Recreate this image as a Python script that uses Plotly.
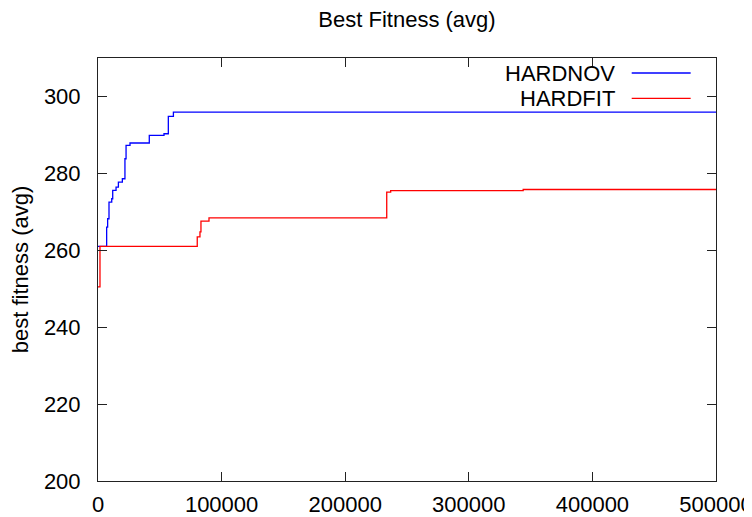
import plotly.graph_objects as go

# ---- data ----
hardnov_x = [0, 7000, 7800, 8900, 11100, 11900, 14600, 16500, 19700, 21800, 22700, 25900,
             41500, 53400, 56900, 61000, 500000]
hardnov_y = [261.0, 266.0, 268.2, 272.5, 273.4, 275.6, 276.4, 277.7, 278.6, 283.8, 287.3, 287.9,
             289.9, 290.3, 294.8, 295.9, 295.9]

hardfit_x = [0, 1600, 80300, 82500, 83300, 89800, 233600, 236800, 344000, 500000]
hardfit_y = [250.5, 261.0, 263.5, 264.8, 267.6, 268.4, 275.1, 275.5, 275.8, 275.8]

series_names = ["HARDNOV", "HARDFIT"]
series_colors = ["#0000ff", "#ff0000"]

x_ticks = [0, 100000, 200000, 300000, 400000, 500000]
y_ticks = [200, 220, 240, 260, 280, 300]

FONT = "Liberation Sans, Arial, sans-serif"
FS = 22

fig = go.Figure()
fig.add_trace(go.Scatter(x=hardnov_x, y=hardnov_y, mode="lines", line_shape="hv",
                         name=series_names[0], line=dict(color=series_colors[0], width=1.3)))
fig.add_trace(go.Scatter(x=hardfit_x, y=hardfit_y, mode="lines", line_shape="hv",
                         name=series_names[1], line=dict(color=series_colors[1], width=1.3)))

# gnuplot-style legend: text right-aligned, then line sample
legend_y = [0.9645, 0.9047]
for name, color, ly in zip(series_names, series_colors, legend_y):
    fig.add_annotation(xref="paper", yref="paper", x=0.839, y=ly, text=name,
                       showarrow=False, xanchor="right", yanchor="middle",
                       font=dict(family=FONT, size=FS, color="black"))
    fig.add_shape(type="line", xref="paper", yref="paper", x0=0.8636, x1=0.959,
                  y0=ly, y1=ly, line=dict(color=color, width=1.3))

axis_common = dict(showline=True, linecolor="#222222", linewidth=1, mirror="ticks",
                   ticks="inside", ticklen=9, tickwidth=1, tickcolor="#222222",
                   showgrid=False, zeroline=False,
                   tickfont=dict(family=FONT, size=FS, color="black"))

fig.update_layout(
    width=752, height=517,
    margin=dict(l=90, r=44, t=50, b=44, autoexpand=False),
    paper_bgcolor="white", plot_bgcolor="white",
    showlegend=False,
    title=dict(text="Best Fitness (avg)", xref="paper", x=0.5, xanchor="center",
               y=0.979, yanchor="middle",
               font=dict(family=FONT, size=FS, color="black")),
    xaxis=dict(range=[0, 500000], tickvals=x_ticks, ticktext=[str(v) for v in x_ticks],
               ticklabelstandoff=4, **axis_common),
    yaxis=dict(range=[200, 310], tickvals=y_ticks, ticktext=[str(v) for v in y_ticks],
               title=dict(text="best fitness (avg)", standoff=26,
                          font=dict(family=FONT, size=FS, color="black")),
               ticklabelstandoff=12, **axis_common),
)

fig.write_html("out.html")
